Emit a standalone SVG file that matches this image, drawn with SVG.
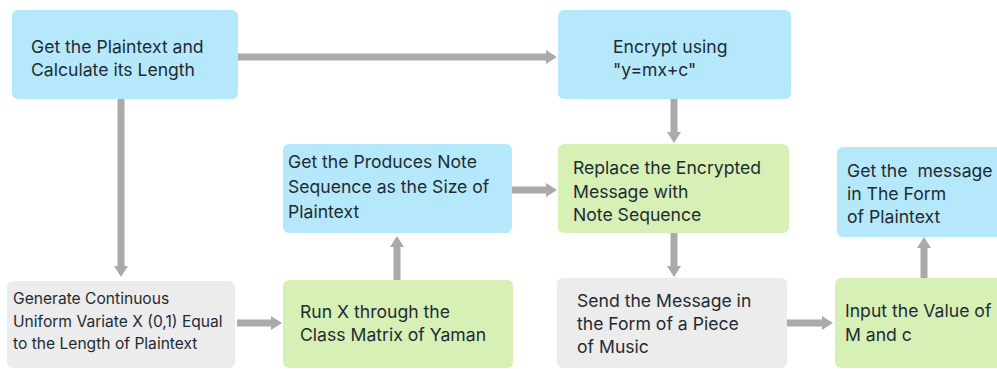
<svg xmlns="http://www.w3.org/2000/svg" width="997" height="369" viewBox="0 0 997 369">
<style>
.blue{fill:#b5e8fb}
.green{fill:#d6f0b6}
.gray{fill:#ececec}
text{font-family:Inter,"Liberation Sans",sans-serif;font-size:17.6px;fill:#1e2b33}
.small{font-size:15.6px}
.pre{white-space:pre}
.conn line{stroke:#aaaaaa;stroke-width:7;fill:none}
</style>
<defs>
<marker id="ah" markerUnits="userSpaceOnUse" markerWidth="11" markerHeight="14" refX="0" refY="7" orient="auto">
<path d="M0,0 L11,7 L0,14 z" fill="#aaaaaa"/>
</marker>
</defs>
<rect width="997" height="369" fill="#ffffff"/>
<g class="conn">
<line x1="238" y1="57" x2="546" y2="57" marker-end="url(#ah)"/>
<line x1="121" y1="99" x2="121" y2="266" marker-end="url(#ah)"/>
<line x1="674" y1="99" x2="674" y2="132" marker-end="url(#ah)"/>
<line x1="674" y1="233" x2="674" y2="266" marker-end="url(#ah)"/>
<line x1="237" y1="323" x2="271" y2="323" marker-end="url(#ah)"/>
<line x1="397" y1="280" x2="397" y2="247" marker-end="url(#ah)"/>
<line x1="512" y1="190" x2="546" y2="190" marker-end="url(#ah)"/>
<line x1="787" y1="323" x2="822" y2="323" marker-end="url(#ah)"/>
<line x1="924" y1="278" x2="924" y2="248" marker-end="url(#ah)"/>
</g>
<g id="plaintext">
<rect class="blue" x="12" y="10" width="226" height="89" rx="6"/>
<text x="31" y="53">Get the Plaintext and</text>
<text x="31" y="76">Calculate its Length</text>
</g>
<g id="encrypt">
<rect class="blue" x="558" y="10" width="233" height="89" rx="6"/>
<text x="613" y="53">Encrypt using</text>
<text x="613" y="76">"y=mx+c"</text>
</g>
<g id="produces">
<rect class="blue" x="283" y="144" width="229" height="89" rx="6"/>
<text x="288" y="168">Get the Produces Note</text>
<text x="288" y="193">Sequence as the Size of</text>
<text x="288" y="218">Plaintext</text>
</g>
<g id="replace">
<rect class="green" x="558" y="144" width="231" height="89" rx="6"/>
<text x="573" y="174">Replace the Encrypted</text>
<text x="573" y="198">Message with</text>
<text x="573" y="221">Note Sequence</text>
</g>
<g id="getmessage">
<rect class="blue" x="837" y="147" width="170" height="90" rx="6"/>
<text class="pre" x="847" y="177">Get the  message</text>
<text x="847" y="200">in The Form</text>
<text x="847" y="223">of Plaintext</text>
</g>
<g id="generate">
<rect class="gray" x="7" y="281" width="228" height="87" rx="6"/>
<text class="small" x="13" y="304">Generate Continuous</text>
<text class="small" x="13" y="327">Uniform Variate X (0,1) Equal</text>
<text class="small" x="13" y="349">to the Length of Plaintext</text>
</g>
<g id="runx">
<rect class="green" x="283" y="280" width="230" height="88" rx="6"/>
<text x="300" y="318">Run X through the</text>
<text x="300" y="341">Class Matrix of Yaman</text>
</g>
<g id="send">
<rect class="gray" x="557" y="278" width="230" height="90" rx="6"/>
<text x="577" y="307">Send the Message in</text>
<text x="577" y="330">the Form of a Piece</text>
<text x="577" y="353">of Music</text>
</g>
<g id="input">
<rect class="green" x="835" y="278" width="172" height="90" rx="6"/>
<text x="845" y="317">Input the Value of</text>
<text x="845" y="341">M and c</text>
</g>
</svg>
